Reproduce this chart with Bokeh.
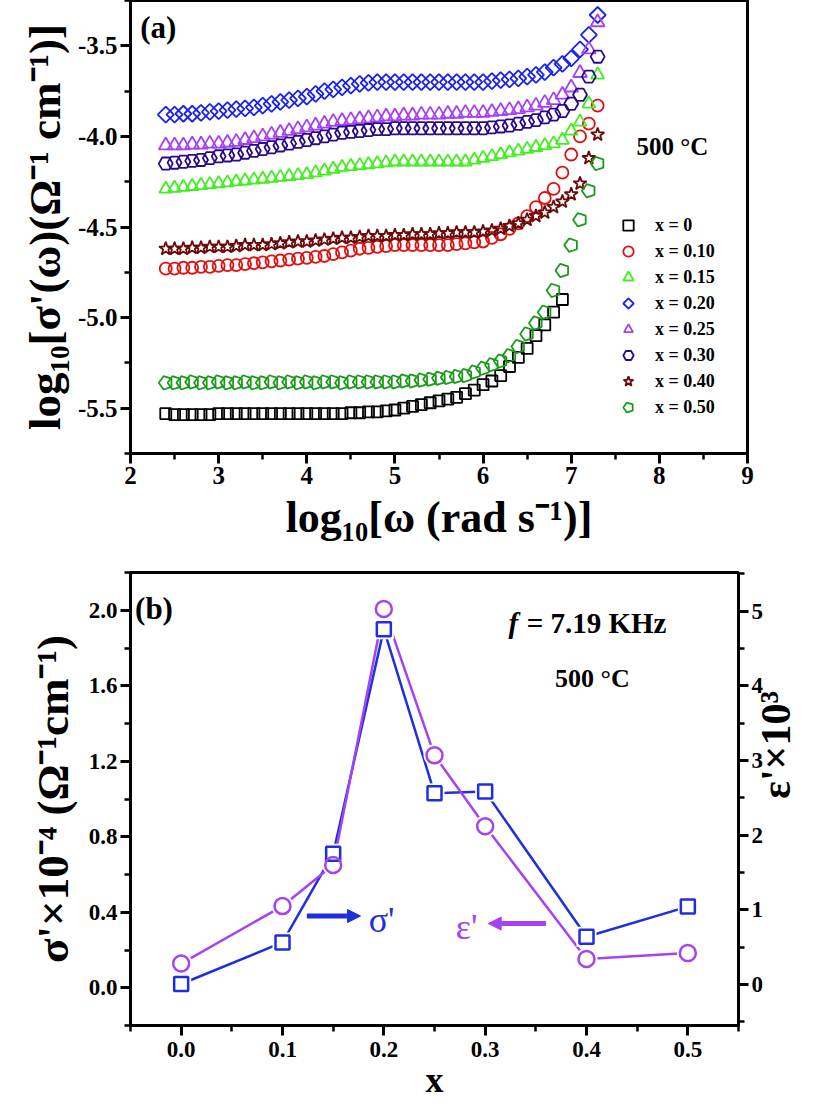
import math
from bokeh.plotting import figure
from bokeh.models import (Range1d, LinearAxis, FixedTicker, PrintfTickFormatter,
                          Legend, LegendItem, Label, Arrow, NormalHead)
from bokeh.layouts import column
from bokeh.embed import file_html
from bokeh.resources import INLINE

# ---------------- data: panel (a) ----------------
LOG_W = [2.4, 2.5, 2.6, 2.7, 2.8, 2.9, 3.0, 3.1, 3.2, 3.3,
         3.4, 3.5, 3.6, 3.7, 3.8, 3.9, 4.0, 4.1, 4.2, 4.3,
         4.4, 4.5, 4.6, 4.7, 4.8, 4.9, 5.0, 5.1, 5.2, 5.3,
         5.4, 5.5, 5.6, 5.7, 5.8, 5.9, 6.0, 6.1, 6.2, 6.3,
         6.4, 6.5, 6.6, 6.7, 6.8, 6.9, 7.0, 7.1, 7.2, 7.3]

SIG_X000 = [-5.53, -5.535, -5.535, -5.535, -5.535, -5.535, -5.53, -5.53, -5.53, -5.53,
            -5.53, -5.53, -5.53, -5.53, -5.53, -5.53, -5.53, -5.53, -5.53, -5.53,
            -5.53, -5.525, -5.525, -5.52, -5.52, -5.515, -5.51, -5.50, -5.49, -5.48,
            -5.47, -5.46, -5.45, -5.44, -5.42, -5.40, -5.37, -5.35, -5.32, -5.27,
            -5.22, -5.17, -5.10, -5.04, -4.97, -4.90]
SIG_X010 = [-4.73, -4.73, -4.725, -4.725, -4.72, -4.72, -4.715, -4.71, -4.71, -4.705,
            -4.70, -4.695, -4.69, -4.685, -4.68, -4.675, -4.67, -4.665, -4.66, -4.65,
            -4.64, -4.63, -4.62, -4.615, -4.61, -4.605, -4.60, -4.60, -4.60, -4.60,
            -4.60, -4.60, -4.60, -4.595, -4.59, -4.585, -4.58, -4.56, -4.54, -4.51,
            -4.48, -4.44, -4.39, -4.34, -4.29, -4.20, -4.10, -4.00, -3.93, -3.83]
SIG_X015 = [-4.29, -4.285, -4.28, -4.275, -4.27, -4.265, -4.26, -4.255, -4.25, -4.245,
            -4.24, -4.235, -4.23, -4.225, -4.22, -4.215, -4.21, -4.20, -4.19, -4.18,
            -4.17, -4.165, -4.16, -4.155, -4.15, -4.145, -4.14, -4.14, -4.14, -4.14,
            -4.14, -4.14, -4.14, -4.14, -4.14, -4.13, -4.12, -4.11, -4.10, -4.09,
            -4.08, -4.07, -4.06, -4.05, -4.04, -4.02, -3.97, -3.92, -3.82, -3.66]
SIG_X020 = [-3.88, -3.88, -3.875, -3.875, -3.87, -3.865, -3.86, -3.855, -3.85, -3.845,
            -3.84, -3.83, -3.82, -3.81, -3.80, -3.79, -3.78, -3.765, -3.75, -3.74,
            -3.73, -3.72, -3.71, -3.705, -3.70, -3.70, -3.70, -3.70, -3.70, -3.70,
            -3.70, -3.70, -3.70, -3.70, -3.70, -3.70, -3.70, -3.695, -3.69, -3.685,
            -3.68, -3.67, -3.66, -3.645, -3.62, -3.60, -3.57, -3.52, -3.44, -3.33]
SIG_X025 = [-4.05, -4.05, -4.05, -4.045, -4.045, -4.04, -4.04, -4.035, -4.03, -4.02,
            -4.01, -4.00, -3.99, -3.98, -3.97, -3.96, -3.95, -3.94, -3.93, -3.92,
            -3.915, -3.91, -3.905, -3.90, -3.895, -3.89, -3.89, -3.885, -3.885, -3.88,
            -3.88, -3.88, -3.875, -3.875, -3.87, -3.87, -3.87, -3.865, -3.86, -3.855,
            -3.85, -3.84, -3.83, -3.815, -3.80, -3.77, -3.73, -3.65, -3.52, -3.37]
SIG_X030 = [-4.15, -4.145, -4.14, -4.135, -4.13, -4.12, -4.11, -4.105, -4.10, -4.09,
            -4.08, -4.07, -4.06, -4.05, -4.04, -4.03, -4.02, -4.01, -4.00, -3.99,
            -3.98, -3.975, -3.97, -3.965, -3.96, -3.96, -3.955, -3.955, -3.955, -3.955,
            -3.955, -3.955, -3.955, -3.955, -3.955, -3.955, -3.955, -3.95, -3.945, -3.94,
            -3.93, -3.92, -3.91, -3.895, -3.88, -3.86, -3.82, -3.77, -3.67, -3.56]
SIG_X040 = [-4.62, -4.62, -4.62, -4.615, -4.615, -4.61, -4.61, -4.61, -4.605, -4.60,
            -4.60, -4.60, -4.595, -4.59, -4.585, -4.58, -4.58, -4.575, -4.57, -4.565,
            -4.56, -4.56, -4.555, -4.55, -4.55, -4.55, -4.545, -4.545, -4.54, -4.54,
            -4.54, -4.535, -4.535, -4.53, -4.53, -4.53, -4.525, -4.52, -4.51, -4.495,
            -4.48, -4.46, -4.44, -4.42, -4.39, -4.36, -4.32, -4.26, -4.12, -3.99]
SIG_X050 = [-5.36, -5.36, -5.36, -5.355, -5.36, -5.36, -5.355, -5.36, -5.36, -5.355,
            -5.36, -5.36, -5.355, -5.36, -5.355, -5.36, -5.355, -5.36, -5.355, -5.355,
            -5.36, -5.355, -5.355, -5.355, -5.355, -5.355, -5.355, -5.35, -5.35, -5.345,
            -5.34, -5.335, -5.33, -5.325, -5.32, -5.30, -5.28, -5.26, -5.24, -5.21,
            -5.16, -5.09, -5.03, -4.97, -4.85, -4.74, -4.60, -4.46, -4.30, -4.15]

LEGEND_LABELS = ["x = 0", "x = 0.10", "x = 0.15", "x = 0.20",
                 "x = 0.25", "x = 0.30", "x = 0.40", "x = 0.50"]

X_TICKS_A = [2, 3, 4, 5, 6, 7, 8, 9]
Y_TICKS_A = [-5.5, -5.0, -4.5, -4.0, -3.5]

# ---------------- data: panel (b) ----------------
X_COMP = [0.0, 0.1, 0.15, 0.2, 0.25, 0.3, 0.4, 0.5]
SIGMA_E4 = [0.02, 0.24, 0.71, 1.90, 1.03, 1.04, 0.27, 0.43]      # left axis
EPS_E3 = [0.28, 1.05, 1.60, 5.03, 3.07, 2.12, 0.34, 0.42]        # right axis

X_TICKS_B = [0.0, 0.1, 0.2, 0.3, 0.4, 0.5]
Y_TICKS_B = [0.0, 0.4, 0.8, 1.2, 1.6, 2.0]
Y2_TICKS_B = [0, 1, 2, 3, 4, 5]

FONT = "Liberation Serif"


def style_axis(ax, size="23px"):
    ax.axis_line_width = 3
    ax.axis_line_color = "black"
    ax.major_tick_line_width = 3
    ax.minor_tick_line_width = 2.5
    ax.major_tick_in = 0
    ax.major_tick_out = 10
    ax.minor_tick_in = 0
    ax.minor_tick_out = 6
    ax.major_label_text_font = FONT
    ax.major_label_text_font_style = "bold"
    ax.major_label_text_font_size = size
    ax.major_label_text_color = "black"
    ax.major_label_standoff = 3
    ax.axis_label_text_font = FONT
    ax.axis_label_text_font_style = "bold"
    ax.axis_label_text_color = "black"


# ================= panel (a) =================
pa = figure(output_backend="svg", toolbar_location=None,
            x_range=Range1d(2, 9), y_range=Range1d(-5.75, -3.25),
            frame_width=617, frame_height=453,
            min_border_left=130, min_border_right=64,
            min_border_top=0, min_border_bottom=105)
pa.grid.visible = False
pa.outline_line_color = "black"
pa.outline_line_width = 3
pa.outline_line_alpha = 1

pa.xaxis.ticker = FixedTicker(ticks=X_TICKS_A,
                              minor_ticks=[t + 0.5 for t in X_TICKS_A[:-1]])
pa.yaxis.ticker = FixedTicker(ticks=Y_TICKS_A,
                              minor_ticks=[t + d for t in Y_TICKS_A for d in (-0.25, 0.25)])
pa.xaxis.formatter = PrintfTickFormatter(format="%d")
pa.yaxis.formatter = PrintfTickFormatter(format="%.1f")
style_axis(pa.xaxis[0], "25px")
style_axis(pa.yaxis[0], "25px")
pa.xaxis.axis_label = "log₁₀[ω (rad s⁻¹)]"
pa.yaxis.axis_label = "log₁₀[σ'(ω)(Ω⁻¹ cm⁻¹)]"
pa.xaxis.axis_label_text_font_size = "44px"
pa.yaxis.axis_label_text_font_size = "45px"
pa.xaxis.axis_label_standoff = 6
pa.yaxis.axis_label_standoff = 5

items = []
sq = dict(line_width=1.8, fill_color=None)
r0 = pa.scatter(LOG_W[:len(SIG_X000)], SIG_X000, marker="square", size=11,
                line_color="#000000", **sq)
r1 = pa.scatter(LOG_W[:len(SIG_X010)], SIG_X010, marker="circle", size=12,
                line_color="#e01010", **sq)
r2 = pa.scatter(LOG_W[:len(SIG_X015)], SIG_X015, marker="triangle", size=13,
                line_color="#44ee22", **sq)
r3 = pa.ngon(x=LOG_W[:len(SIG_X020)], y=SIG_X020, radius=8, radius_units="screen",
             n=4, angle=0, line_color="#1a22ee", **sq)
r4 = pa.ngon(x=LOG_W[:len(SIG_X025)], y=SIG_X025, radius=8, radius_units="screen",
             n=3, angle=0, line_color="#a640f5", **sq)
r5 = pa.ngon(x=LOG_W[:len(SIG_X030)], y=SIG_X030, radius=7, radius_units="screen",
             n=6, angle=math.pi / 2, line_color="#2a0a8a", **sq)
r6 = pa.scatter(LOG_W[:len(SIG_X040)], SIG_X040, marker="star", size=14,
                line_color="#6a0b0b", **sq)
r7 = pa.ngon(x=LOG_W[:len(SIG_X050)], y=SIG_X050, radius=7, radius_units="screen",
             n=5, angle=math.pi / 2, line_color="#1a9a1a", **sq)
for r, lab in zip([r0, r1, r2, r3, r4, r5, r6, r7], LEGEND_LABELS):
    items.append(LegendItem(label=lab, renderers=[r]))

leg = Legend(items=items, location=(485, 33), padding=0, margin=0,
             glyph_width=26, glyph_height=26, label_height=26, spacing=0,
             label_standoff=14, border_line_alpha=0, background_fill_alpha=0,
             label_text_font=FONT, label_text_font_style="bold",
             label_text_font_size="18px", label_text_color="black")
pa.add_layout(leg)

pa.add_layout(Label(x=2.11, y=-3.40, text="(a)", text_font=FONT, text_font_style="bold",
                    text_font_size="31px", text_baseline="middle", text_color="black"))
pa.add_layout(Label(x=7.74, y=-4.056, text="500 °C", text_font=FONT, text_font_style="bold",
                    text_font_size="25px", text_baseline="middle", text_color="black"))

# ================= panel (b) =================
BLUE = "#1f2fe0"
PURPLE = "#a542f2"
pb = figure(output_backend="svg", toolbar_location=None,
            x_range=Range1d(-0.05, 0.55), y_range=Range1d(-0.2, 2.2),
            frame_width=608, frame_height=453,
            min_border_left=127, min_border_right=84,
            min_border_top=14, min_border_bottom=78)
pb.extra_y_ranges = {"eps": Range1d(-0.55, 5.52)}
pb.grid.visible = False
pb.outline_line_color = "black"
pb.outline_line_width = 3
pb.outline_line_alpha = 1

pb.xaxis.ticker = FixedTicker(ticks=X_TICKS_B,
                              minor_ticks=[t + d for t in X_TICKS_B for d in (-0.05, 0.05)])
pb.yaxis.ticker = FixedTicker(ticks=Y_TICKS_B,
                              minor_ticks=[t + d for t in Y_TICKS_B for d in (-0.2, 0.2)])
pb.xaxis.formatter = PrintfTickFormatter(format="%.1f")
pb.yaxis.formatter = PrintfTickFormatter(format="%.1f")
style_axis(pb.xaxis[0])
style_axis(pb.yaxis[0])
pb.xaxis.major_label_standoff = 6
pb.xaxis.axis_label = "x"
pb.yaxis.axis_label = "σ'×10⁻⁴ (Ω⁻¹cm⁻¹)"
pb.xaxis.axis_label_text_font_size = "36px"
pb.yaxis.axis_label_text_font_size = "45px"
pb.xaxis.axis_label_standoff = 0
pb.yaxis.axis_label_standoff = 8

rax = LinearAxis(y_range_name="eps",
                 ticker=FixedTicker(ticks=Y2_TICKS_B,
                                    minor_ticks=[t + d for t in Y2_TICKS_B for d in (-0.5, 0.5)]),
                 formatter=PrintfTickFormatter(format="%d"))
style_axis(rax)
rax.axis_label = "ε'×10³"
rax.axis_label_text_font_size = "42px"
rax.axis_label_standoff = 10
try:
    rax.axis_label_orientation = math.pi / 2
except Exception:
    pass
pb.add_layout(rax, "right")

pb.line(X_COMP, SIGMA_E4, line_color=BLUE, line_width=2.5)
pb.line(X_COMP, EPS_E3, line_color=PURPLE, line_width=2.5, y_range_name="eps")
pb.scatter(X_COMP, SIGMA_E4, marker="square", size=20, line_color=None, fill_color="white")
pb.scatter(X_COMP, EPS_E3, marker="circle", size=22, line_color=None, fill_color="white",
           y_range_name="eps")
pb.scatter(X_COMP, SIGMA_E4, marker="square", size=14, line_color=BLUE, line_width=2.5,
           fill_color=None)
pb.scatter(X_COMP, EPS_E3, marker="circle", size=16, line_color=PURPLE, line_width=2.5,
           fill_color=None, y_range_name="eps")

pb.add_layout(Arrow(x_start=0.124, y_start=0.38, x_end=0.177, y_end=0.38,
                    line_color=BLUE, line_width=5,
                    end=NormalHead(size=13, fill_color=BLUE, line_color=BLUE)))
pb.add_layout(Arrow(x_start=0.36, y_start=0.34, x_end=0.303, y_end=0.34,
                    line_color=PURPLE, line_width=5,
                    end=NormalHead(size=13, fill_color=PURPLE, line_color=PURPLE)))
pb.add_layout(Label(x=0.185, y=0.36, text="σ'", text_font=FONT, text_font_size="36px",
                    text_baseline="middle", text_color=BLUE))
pb.add_layout(Label(x=0.271, y=0.32, text="ε'", text_font=FONT, text_font_size="36px",
                    text_baseline="middle", text_color=PURPLE))
pb.add_layout(Label(x=-0.0455, y=2.01, text="(b)", text_font=FONT, text_font_style="bold",
                    text_font_size="31px", text_baseline="middle", text_color="black"))
pb.add_layout(Label(x=0.323, y=1.93, text="f", text_font=FONT, text_font_style="bold italic",
                    text_font_size="29px", text_baseline="middle", text_color="black"))
pb.add_layout(Label(x=0.341, y=1.93, text="= 7.19 KHz", text_font=FONT,
                    text_font_style="bold", text_font_size="29px",
                    text_baseline="middle", text_color="black"))
pb.add_layout(Label(x=0.369, y=1.64, text="500 °C", text_font=FONT, text_font_style="bold",
                    text_font_size="26px", text_baseline="middle", text_color="black"))

layout = column(pa, pb, spacing=0)
open("out.html", "w").write(file_html(layout, INLINE))
